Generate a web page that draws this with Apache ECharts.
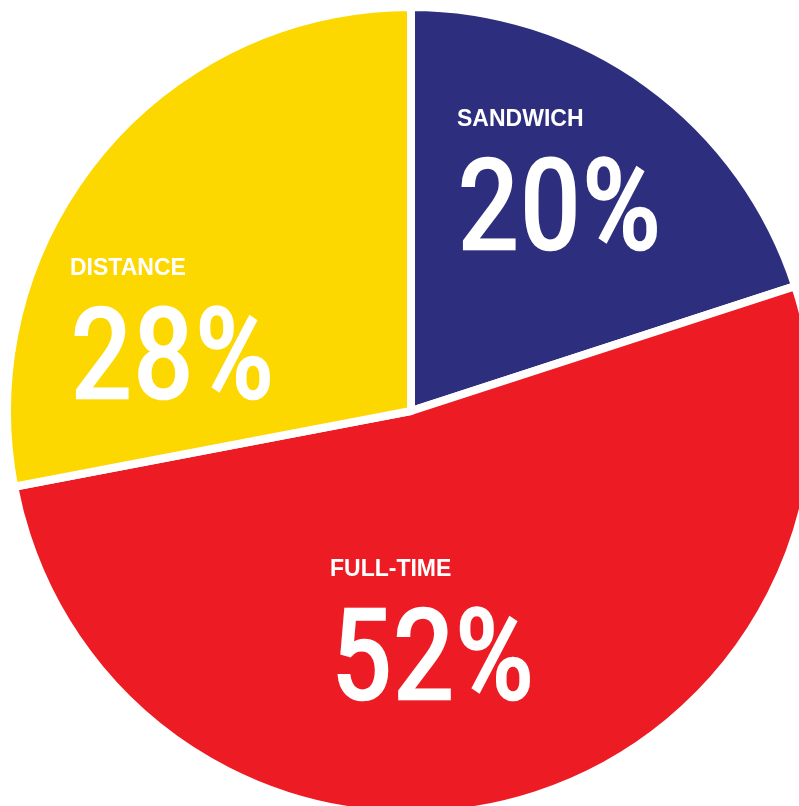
<!DOCTYPE html>
<html>
<head>
<meta charset="utf-8">
<script src="https://cdn.jsdelivr.net/npm/echarts@6/dist/echarts.min.js"></script>
<style>
  html, body { margin: 0; padding: 0; background: #fff; }
  #chart { width: 799px; height: 806px; }
</style>
</head>
<body>
<div id="chart"></div>
<script>
// study mode shares
var categories = ['SANDWICH', 'FULL-TIME', 'DISTANCE'];
var shares = [20, 52, 28];
var colors = ['#2e2e7e', '#ed1c24', '#fdd700'];

// where each label block sits (top-left)
var labelPos = [[457, 87], [330, 537], [70, 236]];

var myChart = echarts.init(document.getElementById('chart'));

var option = {
    backgroundColor: '#ffffff',
    animation: false,
    series: [
        {
            type: 'pie',
            center: [411, 411],
            radius: [0, 404],
            startAngle: 90,
            clockwise: true,
            data: categories.map(function (c, i) {
                return { name: c, value: shares[i], itemStyle: { color: colors[i] } };
            }),
            itemStyle: {
                borderColor: '#ffffff',
                borderWidth: 8
            },
            labelLine: { show: false },
            label: {
                show: true,
                position: 'inside',
                align: 'left',
                formatter: function (p) {
                    return '{n|' + p.name + '}\n{p|' + p.value + '%}';
                },
                rich: {
                    n: {
                        fontFamily: 'Liberation Sans',
                        fontWeight: 'bold',
                        fontSize: 23,
                        lineHeight: 65,
                        color: '#ffffff',
                        align: 'left'
                    },
                    p: {
                        fontFamily: 'Roboto Condensed',
                        fontSize: 126,
                        lineHeight: 130,
                        color: '#ffffff',
                        textBorderColor: '#ffffff',
                        textBorderWidth: 2.5,
                        align: 'left'
                    }
                }
            },
            labelLayout: function (params) {
                var pos = labelPos[params.dataIndex];
                return { x: pos[0], y: pos[1], align: 'left', verticalAlign: 'top' };
            }
        }
    ]
};

myChart.setOption(option);
</script>
</body>
</html>
